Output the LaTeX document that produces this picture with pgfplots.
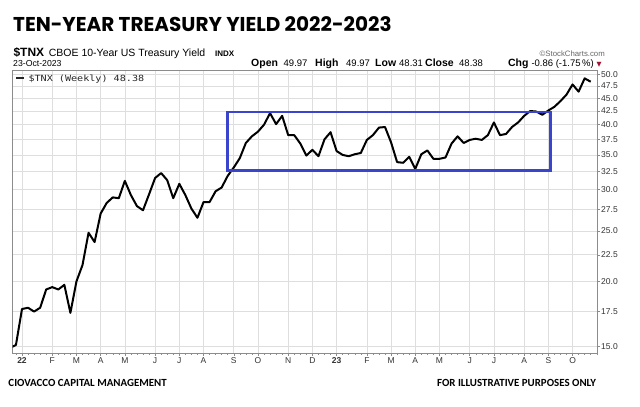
\documentclass[border=0pt]{standalone}
\usepackage{pgfplots}
\pgfplotsset{compat=1.18}
\usepackage{pgfplotstable}
\usepackage{fontspec}
\setmainfont{Liberation Sans}
\newfontfamily\titlefont{Poppins}
\newfontfamily\footfont{Carlito}
\newfontfamily\legfont{DejaVu Sans Mono}
\newfontfamily\symfont{DejaVu Sans}
\definecolor{boxblue}{RGB}{58,68,205}
\definecolor{downred}{RGB}{160,20,50}

% weekly close of $TNX (yield x 10); week 0 = week of 3-Jan-2022
\pgfplotstableread{
wk yld
-2 14.9
-1 15.1
0 17.7
1 17.8
2 17.5
3 17.8
4 19.3
5 19.5
6 19.3
7 19.7
8 17.4
9 20.0
10 21.5
11 24.8
12 23.8
13 27.0
14 28.3
15 29.0
16 28.9
17 31.2
18 29.3
19 27.9
20 27.4
21 29.4
22 31.6
23 32.3
24 31.3
25 28.9
26 30.8
27 29.3
28 27.6
29 26.5
30 28.4
31 28.4
32 29.8
33 30.3
34 31.9
35 33.1
36 34.5
37 36.9
38 38.0
39 38.8
40 40.0
41 42.1
42 40.1
43 41.6
44 38.2
45 38.2
46 36.8
47 34.9
48 35.8
49 34.8
50 37.5
51 38.7
52 35.6
53 35.0
54 34.8
55 35.1
56 35.3
57 37.4
58 38.2
59 39.5
60 39.6
61 37.0
62 33.9
63 33.8
64 34.7
65 32.9
66 35.1
67 35.7
68 34.4
69 34.4
70 34.6
71 36.8
72 38.0
73 36.9
74 37.4
75 37.6
76 37.4
77 38.2
78 40.4
79 38.2
80 38.4
81 39.6
82 40.4
83 41.6
84 42.5
85 42.4
86 41.8
87 42.6
88 43.3
89 44.4
90 45.7
91 47.8
92 46.3
93 49.1
94 48.38
}\tnx

\begin{document}
\begin{tikzpicture}
\path[use as bounding box] (0,0) rectangle (640pt,-407pt);

% title and header
\node[anchor=base west, inner sep=0] at (13pt,-31pt)
  {\titlefont\bfseries\fontsize{20}{20}\selectfont TEN-YEAR TREASURY YIELD 2022-2023};
\node[anchor=base west, inner sep=0] at (13.3pt,-56pt) {\bfseries\fontsize{12}{12}\selectfont\$TNX};
\node[anchor=base west, inner sep=0] at (48.7pt,-56pt) {\fontsize{10.5}{10.5}\selectfont CBOE 10-Year US Treasury Yield};
\node[anchor=base west, inner sep=0] at (215pt,-56pt) {\bfseries\fontsize{8}{8}\selectfont INDX};
\node[anchor=base east, inner sep=0, text=black!60] at (605pt,-56pt) {\fontsize{7.8}{7.8}\selectfont ©StockCharts.com};
\node[anchor=base west, inner sep=0] at (13pt,-66.7pt) {\fontsize{8.7}{8.7}\selectfont 23-Oct-2023};

\foreach \xx/\tt/\bb in {251/Open/1, 283.5/49.97/0, 315/High/1, 346/49.97/0, 375/Low/1,
                         399/48.31/0, 425/Close/1, 459/48.38/0}{
  \ifnum\bb=1
    \node[anchor=base west, inner sep=0] at (\xx pt,-66.7pt) {\bfseries\fontsize{10.5}{10.5}\selectfont \tt};
  \else
    \node[anchor=base west, inner sep=0] at (\xx pt,-66.7pt) {\fontsize{9.5}{9.5}\selectfont \tt};
  \fi
}
\node[anchor=base east, inner sep=0] at (594pt,-66.7pt)
  {{\bfseries\fontsize{10.5}{10.5}\selectfont Chg}\hspace{3pt}{\fontsize{9.5}{9.5}\selectfont -0.86 (-1.75\,\%)}};
\node[anchor=base west, inner sep=0, text=downred] at (596.5pt,-66.7pt) {\symfont\fontsize{6.5}{6.5}\selectfont ▼};

\begin{axis}[
  at={(12.5pt,-70.7pt)}, anchor=north west,
  width=584.5pt, height=282.3pt, scale only axis,
  xmin=-1.57, xmax=95.04,
  ymode=log, ymin=14.57, ymax=50.8,
  ytick={15,17.5,20,22.5,25,27.5,30,32.5,35,37.5,40,42.5,45,47.5,50},
  yticklabels={15.0,17.5,20.0,22.5,25.0,27.5,30.0,32.5,35.0,37.5,40.0,42.5,45.0,47.5,50.0},
  xtick={0,5,9,13,17,22,26,30,35,39,44,48,52,57,61,65,69,74,78,83,87,91},
  xticklabels={\textbf{22},F,M,A,M,J,J,A,S,O,N,D,\textbf{23},F,M,A,M,J,J,A,S,O},
  minor xtick={-1,0,...,95},
  extra x ticks={52}, extra x tick labels={},
  extra x tick style={grid style={black!35, line width=0.7pt}},
  xtick pos=bottom, ytick pos=right, yticklabel pos=right,
  tick align=outside, major tick length=3pt, minor tick length=1.8pt,
  grid=major, major grid style={black!13, line width=0.7pt},
  axis line style={black!45, line width=0.7pt},
  tick style={black!45, line width=0.5pt},
  yticklabel style={anchor=west, inner sep=0pt, xshift=1pt, font=\fontsize{8.5}{8.5}\selectfont, text=black!80},
  xticklabel style={anchor=base, inner sep=0pt, yshift=-8pt, font=\fontsize{8.5}{8.5}\selectfont, text=black!80},
  clip=true,
]
\addplot[black, line width=2pt, line join=round] table[x=wk, y=yld] {\tnx};
\draw[boxblue, line width=2.6pt] (axis cs:34,32.7) rectangle (axis cs:87.4,42.3);
\end{axis}

% legend
\draw[black!85, line width=1.6pt] (16pt,-77.9pt) -- (24pt,-77.9pt);
\node[anchor=base west, inner sep=0, text=black!85] at (28.3pt,-81.7pt)
  {\scalebox{1.19}[1]{\legfont\fontsize{8.5}{8.5}\selectfont\$TNX (Weekly) 48.38}};

% footer
\node[anchor=base west, inner sep=0] at (8.3pt,-386.7pt)
  {\footfont\bfseries\fontsize{10.9}{10.9}\selectfont CIOVACCO CAPITAL MANAGEMENT};
\node[anchor=base west, inner sep=0] at (437pt,-386.7pt)
  {\footfont\bfseries\fontsize{10.9}{10.9}\selectfont FOR ILLUSTRATIVE PURPOSES ONLY};
\end{tikzpicture}
\end{document}
